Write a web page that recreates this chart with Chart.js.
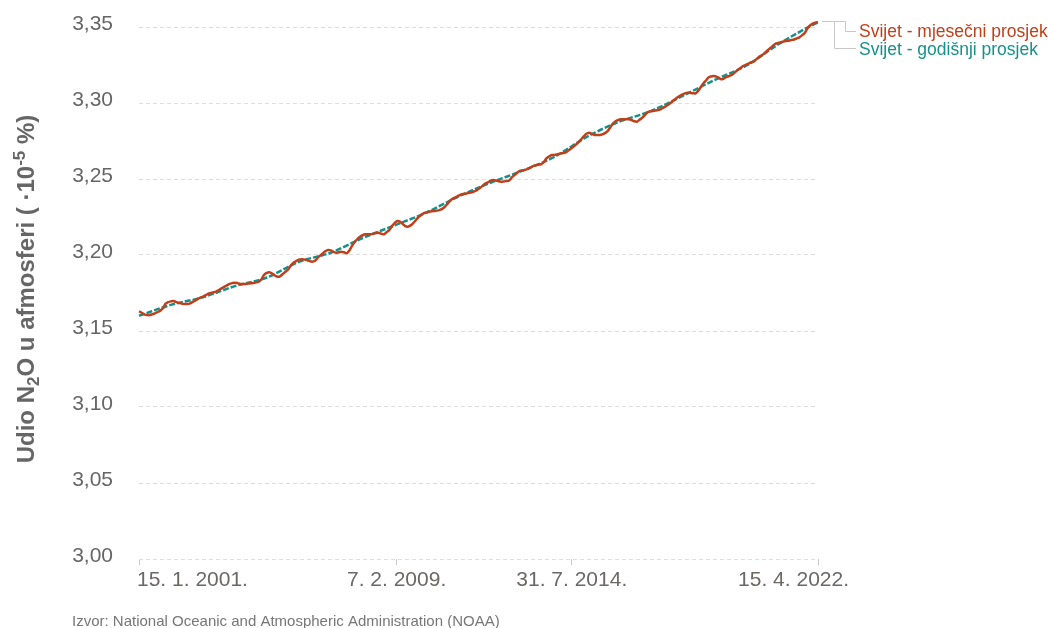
<!DOCTYPE html>
<html>
<head>
<meta charset="utf-8">
<script src="https://cdn.jsdelivr.net/npm/chart.js@4.4.1/dist/chart.umd.min.js"></script>
<style>
  html, body { margin: 0; padding: 0; background: #fff; }
</style>
</head>
<body>
<canvas id="n2oChart" width="1048" height="628"></canvas>
<script>
// Monthly global N2O (·10^-5 %), Jan 2001 - Apr 2022, one row per year
const monthly = [
  3.1630, 3.1620, 3.1610, 3.1605, 3.1605, 3.1610, 3.1616, 3.1625, 3.1634, 3.1650, 3.1680, 3.1690,
  3.1695, 3.1697, 3.1690, 3.1685, 3.1680, 3.1678, 3.1678, 3.1680, 3.1690, 3.1700, 3.1710, 3.1720,
  3.1726, 3.1735, 3.1745, 3.1750, 3.1755, 3.1759, 3.1770, 3.1780, 3.1790, 3.1800, 3.1810, 3.1815,
  3.1818, 3.1815, 3.1810, 3.1809, 3.1810, 3.1812, 3.1814, 3.1816, 3.1820, 3.1824, 3.1840, 3.1870,
  3.1882, 3.1886, 3.1878, 3.1865, 3.1857, 3.1860, 3.1875, 3.1890, 3.1905, 3.1930, 3.1950, 3.1960,
  3.1970, 3.1972, 3.1970, 3.1967, 3.1960, 3.1956, 3.1960, 3.1980, 3.1996, 3.2010, 3.2025, 3.2033,
  3.2030, 3.2020, 3.2015, 3.2018, 3.2022, 3.2018, 3.2011, 3.2030, 3.2060, 3.2085, 3.2105, 3.2120,
  3.2130, 3.2136, 3.2136, 3.2136, 3.2140, 3.2145, 3.2147, 3.2140, 3.2136, 3.2150, 3.2164, 3.2190,
  3.2210, 3.2224, 3.2220, 3.2205, 3.2190, 3.2186, 3.2195, 3.2210, 3.2230, 3.2250, 3.2263, 3.2275,
  3.2280, 3.2285, 3.2288, 3.2290, 3.2292, 3.2297, 3.2305, 3.2320, 3.2340, 3.2360, 3.2373, 3.2380,
  3.2390, 3.2399, 3.2402, 3.2405, 3.2410, 3.2412, 3.2420, 3.2428, 3.2440, 3.2455, 3.2470, 3.2478,
  3.2488, 3.2493, 3.2490, 3.2485, 3.2482, 3.2484, 3.2487, 3.2490, 3.2510, 3.2526, 3.2540, 3.2553,
  3.2556, 3.2560, 3.2566, 3.2575, 3.2585, 3.2590, 3.2594, 3.2597, 3.2610, 3.2636, 3.2648, 3.2658,
  3.2658, 3.2662, 3.2667, 3.2670, 3.2673, 3.2685, 3.2698, 3.2710, 3.2725, 3.2741, 3.2760, 3.2780,
  3.2797, 3.2805, 3.2798, 3.2790, 3.2789, 3.2790, 3.2794, 3.2802, 3.2815, 3.2840, 3.2865, 3.2880,
  3.2888, 3.2893, 3.2893, 3.2893, 3.2893, 3.2888, 3.2880, 3.2877, 3.2890, 3.2903, 3.2920, 3.2939,
  3.2945, 3.2948, 3.2950, 3.2954, 3.2960, 3.2970, 3.2980, 3.2992, 3.3005, 3.3020, 3.3035, 3.3046,
  3.3055, 3.3063, 3.3068, 3.3066, 3.3064, 3.3064, 3.3080, 3.3105, 3.3130, 3.3150, 3.3170, 3.3175,
  3.3178, 3.3172, 3.3162, 3.3156, 3.3165, 3.3173, 3.3180, 3.3190, 3.3205, 3.3220, 3.3232, 3.3245,
  3.3252, 3.3260, 3.3268, 3.3275, 3.3290, 3.3305, 3.3315, 3.3330, 3.3345, 3.3360, 3.3375, 3.3390,
  3.3395, 3.3400, 3.3405, 3.3408, 3.3410, 3.3414, 3.3418, 3.3425, 3.3432, 3.3445, 3.3460, 3.3490,
  3.3510, 3.3522, 3.3528, 3.3532
];

// annual average line: month index (0 = Jan 2001) and value
const trendIdx = [0, 12, 24, 36, 48, 60, 72, 84, 96, 108, 120, 132, 144, 156, 168, 180, 192, 204, 216, 228, 240, 252, 255];
const trend = [3.1600, 3.1672, 3.1722, 3.1795, 3.1852, 3.1955, 3.2015, 3.2112, 3.2195, 3.2280, 3.2385, 3.2475,
               3.2555, 3.2645, 3.2775, 3.2875, 3.2945, 3.3045, 3.3150, 3.3245, 3.3385, 3.3505, 3.3530];

const yTicks = [3.00, 3.05, 3.10, 3.15, 3.20, 3.25, 3.30, 3.35];
const xTickIdx = [0, 96.74, 162.52, 255];
const xTickLabels = ['15. 1. 2001.', '7. 2. 2009.', '31. 7. 2014.', '15. 4. 2022.'];
const seriesNames = ['Svijet - mjesečni prosjek', 'Svijet - godišnji prosjek'];
const sourceText = 'Izvor: National Oceanic and Atmospheric Administration (NOAA)';

const RED = '#c0401b';
const TEAL = '#16918a';
const FONT = '"Liberation Sans", Arial, sans-serif';

// x labels, y title, end-of-line labels, source
const extras = {
  id: 'extras',
  afterDraw(chart) {
    const ctx = chart.ctx;
    const xs = chart.scales.x;
    const ys = chart.scales.y;

    ctx.save();
    ctx.fillStyle = '#6b6866';
    ctx.font = '21px ' + FONT;
    ctx.textBaseline = 'alphabetic';
    xTickIdx.forEach((v, k) => {
      const px = xs.getPixelForValue(v);
      if (k === 0) {
        ctx.textAlign = 'left';
        ctx.fillText(xTickLabels[k], px - 2, 586);
      } else if (k === xTickIdx.length - 1) {
        ctx.textAlign = 'right';
        ctx.fillText(xTickLabels[k], px + 31, 586);
      } else {
        ctx.textAlign = 'center';
        ctx.fillText(xTickLabels[k], px, 586);
      }
    });

    // y axis title with sub/superscript
    const parts = [
      { t: 'Udio N', s: 24, dy: 0 },
      { t: '2', s: 17, dy: 5 },
      { t: 'O u afmosferi ( ', s: 24, dy: 0 },
      { t: '·', s: 24, dy: 0 },
      { t: '10', s: 24, dy: 0 },
      { t: '-5', s: 17, dy: -9 },
      { t: ' %)', s: 24, dy: 0 }
    ];
    let total = 0;
    parts.forEach(p => {
      ctx.font = 'bold ' + p.s + 'px ' + FONT;
      p.w = ctx.measureText(p.t).width;
      total += p.w;
    });
    ctx.translate(33.5, 289);
    ctx.rotate(-Math.PI / 2);
    ctx.fillStyle = '#666666';
    ctx.textAlign = 'left';
    let cx = -total / 2;
    parts.forEach(p => {
      ctx.font = 'bold ' + p.s + 'px ' + FONT;
      ctx.fillText(p.t, cx, p.dy);
      cx += p.w;
    });
    ctx.restore();

    // leader lines and series labels at the end of the lines
    const ex = xs.getPixelForValue(monthly.length - 1) + 4;
    const ey = Math.round(ys.getPixelForValue(monthly[monthly.length - 1]) - 1) + 0.5;
    ctx.save();
    ctx.strokeStyle = '#c8c8c8';
    ctx.lineWidth = 1;
    ctx.beginPath();
    ctx.moveTo(ex, ey);
    ctx.lineTo(845.5, ey);
    ctx.lineTo(845.5, 31.5);
    ctx.lineTo(856, 31.5);
    ctx.moveTo(834.5, ey);
    ctx.lineTo(834.5, 48.5);
    ctx.lineTo(856, 48.5);
    ctx.stroke();

    ctx.font = '17.5px ' + FONT;
    ctx.textAlign = 'left';
    ctx.textBaseline = 'alphabetic';
    ctx.fillStyle = RED;
    ctx.fillText(seriesNames[0], 859, 37);
    ctx.fillStyle = TEAL;
    ctx.fillText(seriesNames[1], 859, 54.5);

    ctx.fillStyle = '#777777';
    ctx.font = '15px ' + FONT;
    ctx.textBaseline = 'top';
    ctx.fillText(sourceText, 72, 614);
    ctx.restore();
  }
};

new Chart(document.getElementById('n2oChart'), {
  type: 'line',
  data: {
    datasets: [
      {
        label: seriesNames[0],
        data: monthly.map((v, i) => ({ x: i, y: v })),
        borderColor: RED,
        borderWidth: 2.5,
        pointRadius: 0,
        tension: 0.3,
        clip: false
      },
      {
        label: seriesNames[1],
        data: trendIdx.map((x, k) => ({ x: x, y: trend[k] })),
        borderColor: TEAL,
        borderWidth: 2.5,
        borderDash: [6, 2],
        pointRadius: 0,
        cubicInterpolationMode: 'monotone',
        clip: false
      }
    ]
  },
  options: {
    responsive: false,
    animation: false,
    layout: { padding: { top: 27, right: 230, left: 0, bottom: 0 } },
    plugins: { legend: { display: false }, tooltip: { enabled: false } },
    scales: {
      x: {
        type: 'linear',
        min: 0,
        max: monthly.length - 1,
        afterBuildTicks: s => { s.ticks = xTickIdx.map(v => ({ value: v })); },
        afterFit: s => { s.height = 69; s.paddingLeft = 0; s.paddingRight = 0; },
        ticks: { display: false },
        grid: { drawOnChartArea: false, drawTicks: true, tickLength: 6, color: '#c8c8c8' },
        border: { display: false }
      },
      y: {
        min: 3.0,
        max: 3.35,
        afterBuildTicks: s => { s.ticks = yTicks.map(v => ({ value: v })); },
        afterFit: s => { s.width = 139; s.paddingTop = 0; s.paddingBottom = 0; },
        ticks: {
          padding: 26,
          labelOffset: -3,
          color: '#666666',
          font: { family: FONT, size: 21 },
          callback: v => v.toFixed(2).replace('.', ',')
        },
        grid: { color: '#dddddd', drawTicks: false },
        border: { display: false, dash: [4, 3] }
      }
    }
  },
  plugins: [extras]
});
</script>
</body>
</html>
